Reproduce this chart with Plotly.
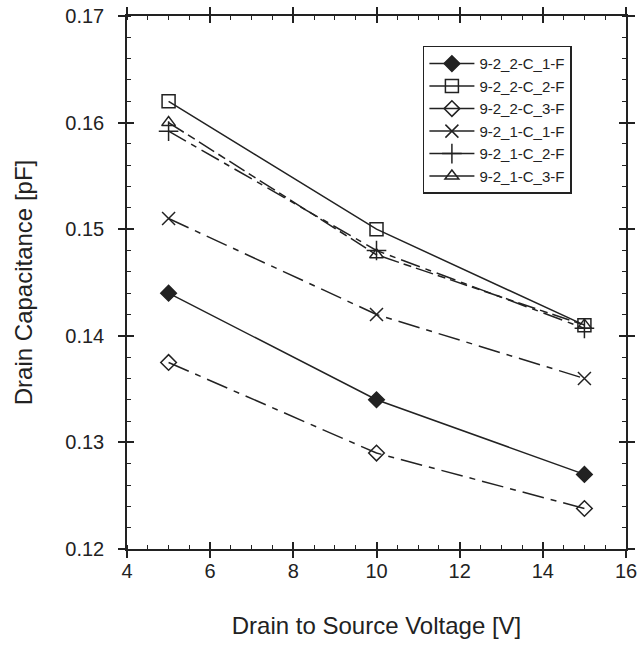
import plotly.graph_objects as go

# drain-source voltage [V]
vds = [5, 10, 15]

# drain capacitance [pF]
c_22c1 = [0.1440, 0.1340, 0.1270]
c_22c2 = [0.1620, 0.1500, 0.1410]
c_22c3 = [0.1375, 0.1290, 0.1238]
c_21c1 = [0.1510, 0.1420, 0.1360]
c_21c2 = [0.1592, 0.1480, 0.1407]
c_21c3 = [0.1600, 0.1476, 0.1410]

names = ["9-2_2-C_1-F", "9-2_2-C_2-F", "9-2_2-C_3-F",
         "9-2_1-C_1-F", "9-2_1-C_2-F", "9-2_1-C_3-F"]

ink = "#222222"
dashdot = "22px,7px,6px,7px"

series = [
    (c_22c1, "diamond", 12, "solid"),
    (c_22c2, "square-open", 13, "solid"),
    (c_22c3, "diamond-open", 12, dashdot),
    (c_21c1, "x-thin-open", 13, dashdot),
    (c_21c2, "cross-thin-open", 14, "20px,6px,6px,6px"),
    (c_21c3, "triangle-up-open", 12, "18px,5px,8px,5px"),
]

fig = go.Figure()

# real curves (legend drawn with solid-line entries below)
for (vals, sym, size, dash), name in zip(series, names):
    fig.add_trace(go.Scatter(
        x=vds, y=vals, mode="lines+markers", name=name, showlegend=False,
        line=dict(color=ink, width=1.5, dash=dash),
        marker=dict(symbol=sym, size=size, color=ink,
                    line=dict(color=ink, width=1.5)),
    ))

for (vals, sym, size, dash), name in zip(series, names):
    fig.add_trace(go.Scatter(
        x=[None], y=[None], mode="lines+markers", name=name,
        line=dict(color=ink, width=1.5),
        marker=dict(symbol=sym, size=size, color=ink,
                    line=dict(color=ink, width=1.5)),
    ))

# empty trace so the overlay axes (inner half of major ticks) are drawn
fig.add_trace(go.Scatter(x=[None], y=[None], xaxis="x2", yaxis="y2",
                         showlegend=False, hoverinfo="skip"))

axis_common = dict(showline=True, linecolor=ink, linewidth=1.5, mirror="ticks",
                   showgrid=False, zeroline=False, ticks="outside", ticklen=7,
                   tickwidth=1.5, tickcolor=ink, automargin=False,
                   ticklabeloverflow="allow", tickfont=dict(size=20))

fig.update_layout(
    width=638, height=646,
    margin=dict(l=127, r=12, t=16, b=97),
    paper_bgcolor="white", plot_bgcolor="white",
    font=dict(family="Liberation Sans, Arial, sans-serif", size=20, color=ink),
    xaxis=dict(range=[4, 16], dtick=2, tick0=4, ticklabelstandoff=-4,
               title=dict(text="Drain to Source Voltage [V]", standoff=36),
               minor=dict(dtick=0.5, ticks="inside", ticklen=4,
                          tickwidth=1, tickcolor=ink),
               **axis_common),
    yaxis=dict(range=[0.12, 0.17], dtick=0.01, tick0=0.12, tickformat=".2f",
               title=dict(text="Drain Capacitance [pF]", standoff=26),
               ticklabelstandoff=10,
               minor=dict(dtick=0.002, ticks="inside", ticklen=4,
                          tickwidth=1, tickcolor=ink),
               **axis_common),
    xaxis2=dict(range=[4, 16], dtick=2, tick0=4, overlaying="x", anchor="y2",
                showticklabels=False, showgrid=False, zeroline=False,
                showline=False, ticks="inside", ticklen=7, tickwidth=1.5,
                tickcolor=ink, mirror="ticks", automargin=False),
    yaxis2=dict(range=[0.12, 0.17], dtick=0.01, tick0=0.12, overlaying="y",
                anchor="x2", showticklabels=False, showgrid=False,
                zeroline=False, showline=False, ticks="inside", ticklen=7,
                tickwidth=1.5, tickcolor=ink, mirror="ticks", automargin=False),
    legend=dict(x=0.593, y=0.944, xanchor="left", yanchor="top",
                bgcolor="white", bordercolor=ink, borderwidth=1.5,
                font=dict(size=15, color=ink), itemwidth=45,
                tracegroupgap=0),
)

# drop the default 8px page margin so the figure fills the window exactly
fig.write_html("out.html", config={"displayModeBar": False},
               post_script="document.body.style.margin='0';"
                           "document.body.style.overflow='hidden';")
